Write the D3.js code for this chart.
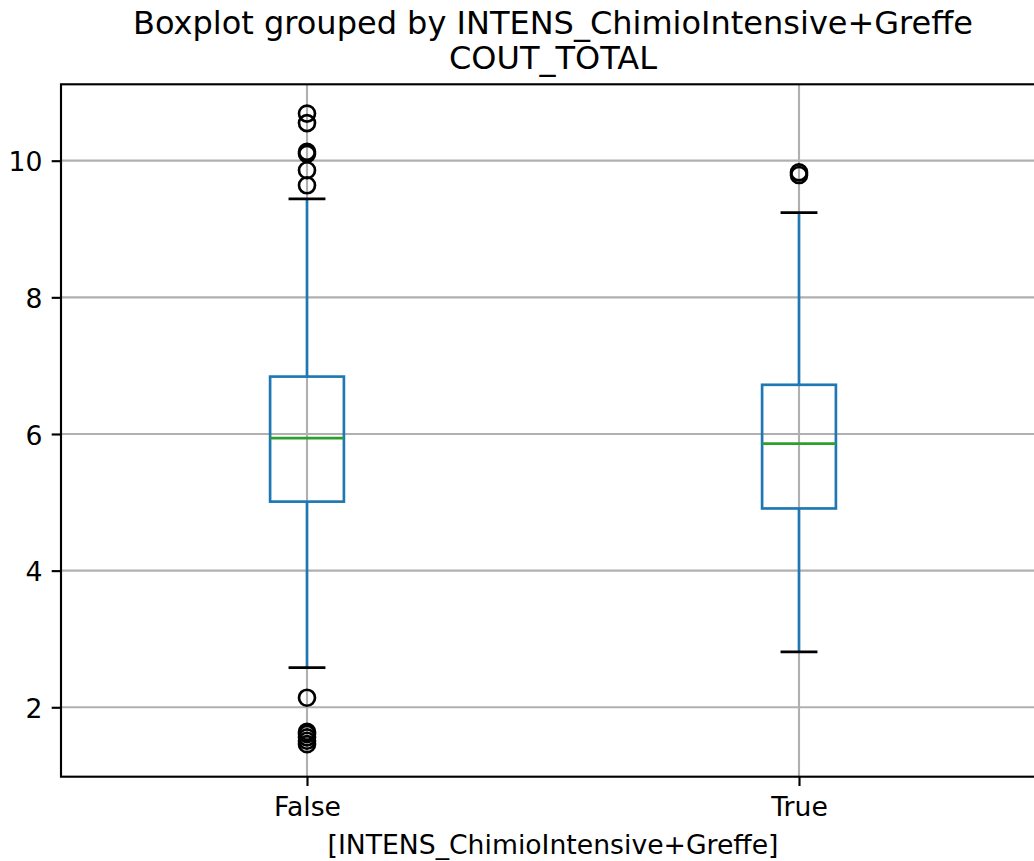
<!DOCTYPE html>
<html>
<head>
<meta charset="utf-8">
<script src="https://cdn.jsdelivr.net/npm/d3@7"></script>
<style>
  html, body { margin: 0; padding: 0; background: #fff; }
  svg { display: block; font-family: "DejaVu Sans", sans-serif; }
</style>
</head>
<body>
<svg id="chart" width="1034" height="861"></svg>
<script>
// Groups and their box statistics (COUT_TOTAL)
const categories = ["False", "True"];
const q1 = [5.01, 4.91];
const medians = [5.94, 5.86];
const q3 = [6.84, 6.72];
const whiskerLow = [2.58, 2.81];
const whiskerHigh = [9.44, 9.24];
const outliers = [
  [10.69, 10.55, 10.13, 10.10, 9.86, 9.64, 2.14, 1.64, 1.61, 1.56, 1.51, 1.46],
  [9.83, 9.79]
];
const yTicks = [2, 4, 6, 8, 10];

const titleLine1 = "Boxplot grouped by INTENS_ChimioIntensive+Greffe";
const titleLine2 = "COUT_TOTAL";
const xLabel = "[INTENS_ChimioIntensive+Greffe]";

const svg = d3.select("#chart");
const plotLeft = 61, plotRight = 1045, plotTop = 84.3, plotBottom = 776.7;

const x = d3.scalePoint().domain(categories).range([plotLeft, plotRight]).padding(0.5);
const y = d3.scaleLinear().domain([0.984, 11.118]).range([plotBottom, plotTop]);

const boxW = x.step() * 0.15;
const capW = boxW / 2;
const lw = 2.67;       // box / whisker / cap stroke
const gridW = 2.13;    // grid and spine stroke
const tickLen = 9.3;
const tickFont = "26.67px";

// grid
const grid = svg.append("g");
grid.selectAll("line.hg").data(yTicks).join("line")
  .attr("x1", plotLeft).attr("x2", plotRight)
  .attr("y1", d => y(d)).attr("y2", d => y(d))
  .attr("stroke", "#b0b0b0").attr("stroke-width", gridW);
grid.selectAll("line.vg").data(categories).join("line")
  .attr("x1", d => x(d)).attr("x2", d => x(d))
  .attr("y1", plotTop).attr("y2", plotBottom)
  .attr("stroke", "#b0b0b0").attr("stroke-width", gridW);

// boxes
const g = svg.append("g");
categories.forEach((c, i) => {
  const cx = x(c);
  // whiskers
  g.append("line").attr("x1", cx).attr("x2", cx)
    .attr("y1", y(q1[i])).attr("y2", y(whiskerLow[i]))
    .attr("stroke", "#1f77b4").attr("stroke-width", lw);
  g.append("line").attr("x1", cx).attr("x2", cx)
    .attr("y1", y(q3[i])).attr("y2", y(whiskerHigh[i]))
    .attr("stroke", "#1f77b4").attr("stroke-width", lw);
  // caps
  [whiskerLow[i], whiskerHigh[i]].forEach(v => {
    g.append("line").attr("x1", cx - capW / 2).attr("x2", cx + capW / 2)
      .attr("y1", y(v)).attr("y2", y(v))
      .attr("stroke", "#000").attr("stroke-width", lw);
  });
  // box
  g.append("rect").attr("x", cx - boxW / 2).attr("width", boxW)
    .attr("y", y(q3[i])).attr("height", y(q1[i]) - y(q3[i]))
    .attr("fill", "none").attr("stroke", "#1f77b4").attr("stroke-width", lw);
  // median
  g.append("line").attr("x1", cx - boxW / 2).attr("x2", cx + boxW / 2)
    .attr("y1", y(medians[i])).attr("y2", y(medians[i]))
    .attr("stroke", "#2ca02c").attr("stroke-width", lw);
  // fliers
  g.selectAll(null).data(outliers[i]).join("circle")
    .attr("cx", cx).attr("cy", d => y(d)).attr("r", 8)
    .attr("fill", "none").attr("stroke", "#000").attr("stroke-width", lw);
});

// axes
const yAxis = svg.append("g").attr("transform", `translate(${plotLeft},0)`)
  .call(d3.axisLeft(y).tickValues(yTicks).tickFormat(d3.format("d")).tickSize(tickLen).tickPadding(tickLen));
const xAxis = svg.append("g").attr("transform", `translate(0,${plotBottom})`)
  .call(d3.axisBottom(x).tickSize(tickLen).tickPadding(tickLen));
[yAxis, xAxis].forEach(a => {
  a.select(".domain").remove();
  a.selectAll(".tick line").attr("stroke", "#000").attr("stroke-width", gridW);
  a.selectAll(".tick text").attr("fill", "#000").style("font-size", tickFont)
    .style("font-family", "DejaVu Sans, sans-serif");
});
yAxis.selectAll(".tick text").attr("dy", "0.38em");
xAxis.selectAll(".tick text").attr("y", 39.8).attr("dy", 0);

// spines
svg.append("rect").attr("x", plotLeft).attr("y", plotTop)
  .attr("width", plotRight - plotLeft).attr("height", plotBottom - plotTop)
  .attr("fill", "none").attr("stroke", "#000").attr("stroke-width", gridW);

// titles
const cxAll = (plotLeft + plotRight) / 2;
svg.append("text").attr("x", cxAll).attr("y", 33.5).attr("text-anchor", "middle")
  .style("font-size", "32px").attr("fill", "#000").text(titleLine1);
svg.append("text").attr("x", cxAll).attr("y", 69).attr("text-anchor", "middle")
  .style("font-size", "32px").attr("fill", "#000").text(titleLine2);
svg.append("text").attr("x", cxAll).attr("y", 854).attr("text-anchor", "middle")
  .style("font-size", tickFont).attr("fill", "#000").text(xLabel);
</script>
</body>
</html>
